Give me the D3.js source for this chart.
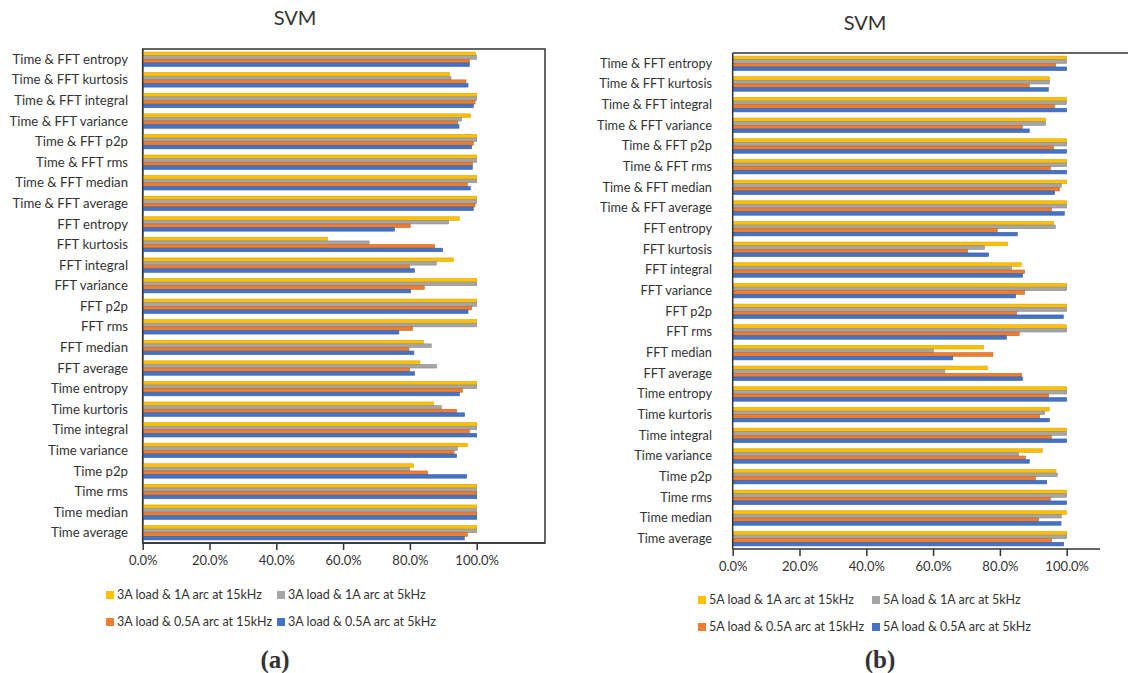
<!DOCTYPE html>
<html>
<head>
<meta charset="utf-8">
<script src="https://cdn.jsdelivr.net/npm/d3@7"></script>
<style>
  body { margin: 0; background: #fff; }
  svg text { font-family: Lato, "Open Sans", sans-serif; fill: #333; }
</style>
</head>
<body>
<svg id="chart" width="1128" height="673"></svg>
<script>
// categories, top to bottom
var categories = [
  'Time & FFT entropy', 'Time & FFT kurtosis', 'Time & FFT integral', 'Time & FFT variance',
  'Time & FFT p2p', 'Time & FFT rms', 'Time & FFT median', 'Time & FFT average',
  'FFT entropy', 'FFT kurtosis', 'FFT integral', 'FFT variance',
  'FFT p2p', 'FFT rms', 'FFT median', 'FFT average',
  'Time entropy', 'Time kurtoris', 'Time integral', 'Time variance',
  'Time p2p', 'Time rms', 'Time median', 'Time average'
];

var tickValues = [0, 0.2, 0.4, 0.6, 0.8, 1.0];

// (a) 3A load, accuracy %
var a_1A_15k  = [99.7, 91.8, 100, 98.1, 100, 100, 100, 100, 94.8, 55.3, 93.0, 100, 100, 100, 84.0, 83.0, 100, 87.1, 100, 97.2, 81.1, 100, 100, 100];
var a_1A_5k   = [100, 92.3, 100, 95.5, 100, 100, 100, 100, 91.6, 67.8, 87.9, 100, 100, 100, 86.4, 88.0, 100, 89.4, 100, 94.2, 79.9, 100, 100, 100];
var a_05A_15k = [97.8, 96.8, 99.5, 94.3, 99.0, 98.7, 97.2, 99.5, 80.1, 87.4, 79.9, 84.3, 98.5, 80.8, 79.7, 79.9, 95.7, 94.0, 97.8, 93.2, 85.3, 100, 100, 97.2];
var a_05A_5k  = [97.8, 97.4, 99.0, 94.7, 98.5, 98.7, 98.1, 99.0, 75.4, 89.8, 81.4, 80.2, 97.4, 76.7, 81.2, 81.4, 94.8, 96.4, 100, 94.0, 97.0, 100, 100, 96.3];

// (b) 5A load, accuracy %
var b_1A_15k  = [100, 94.8, 100, 93.7, 100, 100, 100, 100, 96.1, 82.3, 86.4, 100, 100, 100, 75.1, 76.3, 100, 94.8, 100, 92.7, 96.8, 100, 100, 100];
var b_1A_5k   = [100, 94.8, 100, 93.7, 100, 100, 98.4, 100, 96.6, 75.4, 83.5, 100, 100, 100, 60.1, 63.5, 100, 93.4, 100, 85.6, 97.2, 100, 98.4, 100];
var b_05A_15k = [96.7, 88.8, 96.3, 86.7, 96.1, 95.1, 97.8, 95.4, 79.2, 70.3, 87.4, 87.4, 85.0, 85.8, 77.9, 86.5, 94.6, 91.9, 95.4, 87.6, 90.6, 95.1, 91.6, 95.4];
var b_05A_5k  = [100, 94.5, 100, 88.8, 100, 100, 96.4, 99.3, 85.2, 76.6, 86.8, 84.7, 99.0, 82.0, 65.9, 86.8, 100, 94.8, 100, 88.8, 94.0, 100, 98.3, 99.1];

var seriesColors = ['#FFC000', '#A5A5A5', '#ED7D31', '#4472C4'];
var seriesStroke = ['#d9a300', '#8c8c8c', '#c9651f', '#3a62a8'];

var svg = d3.select('#chart');

function drawPanel(opt) {
  var series = opt.series;
  var g = svg.append('g');

  var x = d3.scaleLinear().domain([0, 1.2]).range([opt.left, opt.left + (opt.x100 - opt.left) * 1.2]);
  var y = d3.scaleBand().domain(categories).range([opt.top, opt.bottom]).paddingInner(0.3).paddingOuter(0.15);
  var inner = d3.scaleBand().domain(d3.range(4)).range([0, y.bandwidth()]);

  // frame
  if (opt.frameRight) {
    g.append('rect')
      .attr('x', opt.left).attr('y', opt.top)
      .attr('width', opt.frameRight - opt.left).attr('height', opt.bottom - opt.top)
      .attr('fill', 'none').attr('stroke', '#333').attr('stroke-width', 1.5);
  } else {
    g.append('line')
      .attr('x1', opt.left).attr('x2', 1128).attr('y1', opt.top).attr('y2', opt.top)
      .attr('stroke', '#333').attr('stroke-width', 1.5);
  }

  // bars
  series.forEach(function(vals, si) {
    g.append('g').selectAll('rect')
      .data(vals)
      .enter().append('rect')
        .attr('x', x(0))
        .attr('y', function(d, i) { return y(categories[i]) + inner(si); })
        .attr('width', function(d) { return x(d / 100) - x(0); })
        .attr('height', inner.bandwidth())
        .attr('fill', seriesColors[si])
        .attr('stroke', seriesStroke[si])
        .attr('stroke-width', 0.6);
  });

  // y axis line + labels
  g.append('line')
    .attr('x1', opt.left).attr('x2', opt.left).attr('y1', opt.top).attr('y2', opt.bottom)
    .attr('stroke', '#333').attr('stroke-width', 1.5);

  g.append('g').selectAll('text')
    .data(categories)
    .enter().append('text')
      .attr('x', opt.labelX)
      .attr('y', function(d) { return y(d) + y.bandwidth() / 2; })
      .attr('dy', '0.35em')
      .attr('text-anchor', 'end')
      .style('font-size', opt.labelSize + 'px')
      .text(function(d) { return d; });

  // x axis
  var xAxis = d3.axisBottom(x)
    .tickValues(tickValues)
    .tickSize(7)
    .tickPadding(6)
    .tickFormat(d3.format('.1%'));
  var xg = g.append('g').attr('transform', 'translate(0,' + opt.bottom + ')').call(xAxis);
  xg.select('.domain').attr('d', 'M' + opt.left + ',0H' + opt.axisEnd).attr('stroke', '#333').attr('stroke-width', 1.5);
  xg.selectAll('.tick line').attr('stroke', '#333').attr('stroke-width', 1.5);
  xg.selectAll('.tick text').style('font-size', '13px').style('font-family', 'Lato, sans-serif').attr('fill', '#404040');

  // title
  g.append('text')
    .attr('x', opt.titleX).attr('y', opt.titleY)
    .attr('text-anchor', 'middle')
    .style('font-size', '20px')
    .text('SVM');

  // legend
  var leg = g.append('g');
  opt.legend.forEach(function(name, i) {
    var lx = opt.legX[i % 2], ly = opt.legY[Math.floor(i / 2)];
    leg.append('rect')
      .attr('x', lx).attr('y', ly - 4).attr('width', 8).attr('height', 8)
      .attr('fill', seriesColors[i]);
    leg.append('text')
      .attr('x', lx + 11).attr('y', ly).attr('dy', '0.35em')
      .style('font-size', '12.5px')
      .text(name);
  });

  // panel label
  g.append('text')
    .attr('x', opt.panelX).attr('y', 668)
    .attr('text-anchor', 'middle')
    .style('font-family', '"Liberation Serif", serif')
    .style('font-weight', 'bold')
    .style('font-size', '25px')
    .attr('fill', '#000')
    .text(opt.panel);
}

drawPanel({
  series: [a_1A_15k, a_1A_5k, a_05A_15k, a_05A_5k],
  left: 142.7, x100: 476.7, top: 49, bottom: 543, frameRight: 545, axisEnd: 545,
  labelX: 128, labelSize: 13.2,
  titleX: 295, titleY: 25,
  legend: ['3A load & 1A arc at 15kHz', '3A load & 1A arc at 5kHz', '3A load & 0.5A arc at 15kHz', '3A load & 0.5A arc at 5kHz'],
  legX: [106, 277], legY: [595, 622],
  panel: '(a)', panelX: 275
});

drawPanel({
  series: [b_1A_15k, b_1A_5k, b_05A_15k, b_05A_5k],
  left: 732.7, x100: 1066.7, top: 53, bottom: 549, frameRight: null, axisEnd: 1100,
  labelX: 712, labelSize: 12.8,
  titleX: 865, titleY: 30,
  legend: ['5A load & 1A arc at 15kHz', '5A load & 1A arc at 5kHz', '5A load & 0.5A arc at 15kHz', '5A load & 0.5A arc at 5kHz'],
  legX: [698, 872], legY: [600, 627],
  panel: '(b)', panelX: 880
});
</script>
</body>
</html>
